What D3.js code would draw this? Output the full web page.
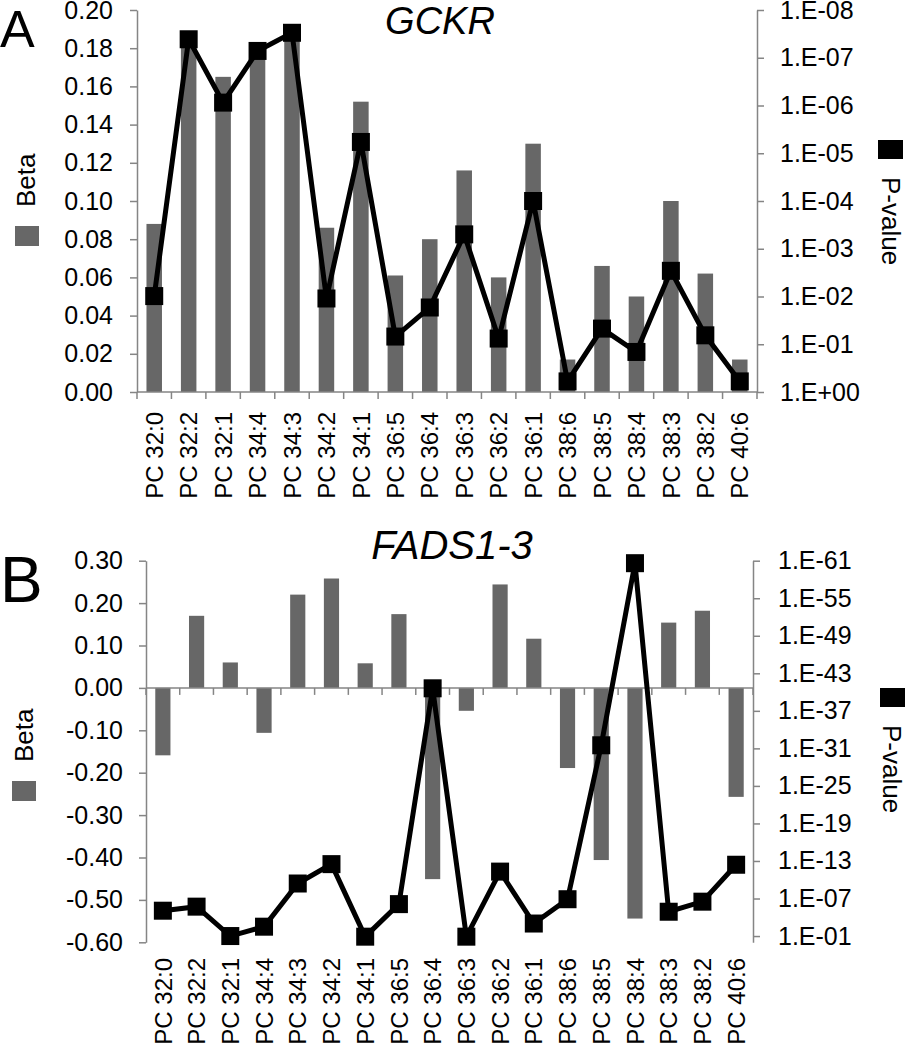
<!DOCTYPE html>
<html><head><meta charset="utf-8">
<script src="https://cdn.jsdelivr.net/npm/d3@7"></script>
<style>body{margin:0;background:#fff}svg{display:block;font-family:"Liberation Sans",Arial,sans-serif}</style>
</head><body>
<svg id="c" width="905" height="1050"></svg>
<script>
const categories = ["PC 32:0","PC 32:2","PC 32:1","PC 34:4","PC 34:3","PC 34:2","PC 34:1","PC 36:5","PC 36:4","PC 36:3","PC 36:2","PC 36:1","PC 38:6","PC 38:5","PC 38:4","PC 38:3","PC 38:2","PC 40:6"];
const betaGCKR = [0.088,0.183,0.165,0.177,0.188,0.086,0.152,0.061,0.080,0.116,0.060,0.130,0.017,0.066,0.050,0.100,0.062,0.017];
const pGCKR = [9.8e-3,4.1e-8,8.7e-7,7.2e-8,3.0e-8,1.1e-2,5.8e-6,6.9e-2,1.7e-2,5.0e-4,7.6e-2,1.0e-4,0.60,4.7e-2,0.145,2.9e-3,6.5e-2,0.60];
const betaFADS = [-0.159,0.170,0.060,-0.106,0.220,0.258,0.058,0.174,-0.451,-0.054,0.244,0.116,-0.189,-0.406,-0.544,0.154,0.182,-0.257];
const pFADS = [8.9e-6,2.0e-6,0.1,3.2e-3,4.0e-10,3.2e-13,0.126,7.9e-7,2.5e-41,0.126,5.0e-12,1.0e-3,1.3e-7,3.2e-32,2.5e-61,1.3e-5,3.2e-7,4.0e-13];
const betaTicksA = [0,0.02,0.04,0.06,0.08,0.10,0.12,0.14,0.16,0.18,0.20];
const betaTicksB = [-0.6,-0.5,-0.4,-0.3,-0.2,-0.1,0,0.1,0.2,0.3];
const pExpTicksA = [0,-1,-2,-3,-4,-5,-6,-7,-8];
const pExpTicksB = [-1,-7,-13,-19,-25,-31,-37,-43,-49,-55,-61];

const svg = d3.select("#c");
const BAR = "#676767", AX = "#858585";

function fmtBeta(v){ return Math.abs(v)<1e-9 ? "0.00" : v.toFixed(2); }
function fmtP(e){ const s = e>=0 ? "+" : "-"; const a = Math.abs(e); return "1.E" + s + (a<10?"0":"") + a; }

function panel(o){
  const g = svg.append("g");
  const x = d3.scaleBand().domain(categories).range([o.x0,o.x1]).paddingInner(0.55).paddingOuter(0.275);
  const y = d3.scaleLinear().domain(o.betaDomain).range([o.yBot,o.yTop]);
  const yp = d3.scaleLog().domain(o.pDomain).range([o.yBot,o.yTop]);
  const band = (o.x1-o.x0)/categories.length;
  g.selectAll("rect.bar").data(o.beta).join("rect")
    .attr("x",(d,i)=>x(categories[i])).attr("width",x.bandwidth())
    .attr("y",d=>Math.min(y(d),y(0))).attr("height",d=>Math.abs(y(d)-y(0)))
    .attr("fill",BAR);
  const la = d3.axisLeft(y).tickValues(o.betaTicks).tickFormat(fmtBeta).tickSize(7).tickSizeOuter(0).tickPadding(o.lpad);
  const lg = g.append("g").attr("transform",`translate(${o.x0},0)`).call(la);
  const ra = d3.axisRight(yp).tickValues(o.pTicks.map(e=>Math.pow(10,e))).tickFormat((v,i)=>fmtP(o.pTicks[i])).tickSize(7).tickSizeOuter(0).tickPadding(o.rpad);
  const rg = g.append("g").attr("transform",`translate(${o.x1},0)`).call(ra);
  [lg,rg].forEach(a=>{
    a.select(".domain").attr("stroke",AX).attr("stroke-width",1.5);
    a.selectAll(".tick line").attr("stroke",AX).attr("stroke-width",1.5);
    a.selectAll(".tick text").attr("fill","#000").attr("font-size",25).attr("font-family","Liberation Sans, Arial, sans-serif");
  });
  const y0 = y(0);
  g.append("line").attr("x1",o.x0).attr("x2",o.x1).attr("y1",y0).attr("y2",y0).attr("stroke",AX).attr("stroke-width",1.5);
  g.selectAll("line.ct").data(d3.range(categories.length+1)).join("line")
    .attr("x1",i=>o.x0+i*band).attr("x2",i=>o.x0+i*band).attr("y1",y0).attr("y2",y0+7)
    .attr("stroke",AX).attr("stroke-width",1.5);
  g.selectAll("text.cat").data(categories).join("text")
    .attr("transform",d=>`translate(${x(d)+x.bandwidth()/2},${o.labelEnd}) rotate(-90)`)
    .attr("text-anchor","end").attr("dy","0.36em").attr("font-size",24).text(d=>d);
  const pts = o.p.map((p,i)=>[x(categories[i])+x.bandwidth()/2, yp(p)]);
  g.append("path").attr("d",d3.line()(pts)).attr("fill","none").attr("stroke","#000").attr("stroke-width",5).attr("stroke-linejoin","miter");
  g.selectAll("rect.mk").data(pts).join("rect")
    .attr("x",d=>d[0]-9).attr("y",d=>d[1]-9).attr("width",18).attr("height",18).attr("fill","#000");
  g.append("text").attr("x",o.titleX).attr("y",o.titleY).attr("text-anchor","middle").attr("font-style","italic").attr("font-size",o.titleSize).text(o.title);
  g.append("text").attr("x",o.letterX).attr("y",o.letterY).attr("font-size",o.letterSize).text(o.letter);
  g.append("text").attr("transform",`translate(${o.betaLeg[0]},${o.betaLeg[1]}) rotate(-90)`).attr("font-size",26).text("Beta");
  g.append("rect").attr("x",o.betaSq[0]).attr("y",o.betaSq[1]).attr("width",24).attr("height",20).attr("fill",BAR);
  g.append("rect").attr("x",o.pSq[0]).attr("y",o.pSq[1]).attr("width",25).attr("height",19).attr("fill","#000");
  g.append("text").attr("transform",`translate(${o.pLeg[0]},${o.pLeg[1]}) rotate(90)`).attr("font-size",26).text("P-value");
}

panel({x0:137,x1:757,yTop:10,yBot:392,betaDomain:[0,0.2],pDomain:[1,1e-8],beta:betaGCKR,p:pGCKR,
  betaTicks:betaTicksA,pTicks:pExpTicksA,lpad:17,rpad:16,labelEnd:412,
  title:"GCKR",titleX:440,titleY:34,titleSize:38,letter:"A",letterX:0,letterY:47,letterSize:52,
  betaLeg:[35,207],betaSq:[15,226],pSq:[878,140],pLeg:[882,177]});
panel({x0:146,x1:753,yTop:560.7,yBot:942.3,betaDomain:[-0.6,0.3],pDomain:[1,1e-61],beta:betaFADS,p:pFADS,
  betaTicks:betaTicksB,pTicks:pExpTicksB,lpad:16,rpad:18,labelEnd:958,
  title:"FADS1-3",titleX:452,titleY:559,titleSize:40,letter:"B",letterX:0,letterY:602,letterSize:64,
  betaLeg:[33,762],betaSq:[12,781],pSq:[880,688],pLeg:[883,725]});
</script>
</body></html>
